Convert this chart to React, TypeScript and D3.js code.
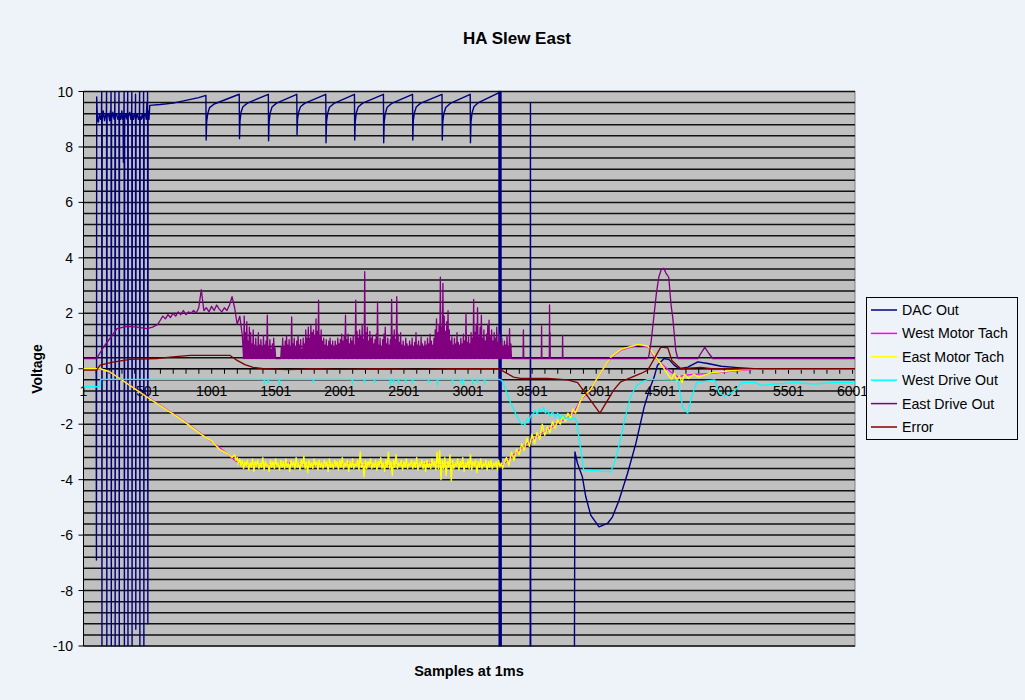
import React from "react";
import * as d3 from "d3";

type P = [number, number];

// ---------- axis / category data ----------
const SAMPLE_MIN = 1;
const SAMPLE_MAX = 6020;
const X_LABELS = [1, 501, 1001, 1501, 2001, 2501, 3001, 3501, 4001, 4501, 5001, 5501, 6001];
const X_TICKS = d3.range(1, 6002, 100);
const Y_TICKS = [-10, -8, -6, -4, -2, 0, 2, 4, 6, 8, 10];
const Y_GRID = d3.range(-10, 10.001, 0.4);

const TITLE = "HA Slew East";
const X_TITLE = "Samples at 1ms";
const Y_TITLE = "Voltage";

const SERIES_NAMES = ["DAC Out", "West Motor Tach", "East Motor Tach", "West Drive Out", "East Drive Out", "Error"];
const SERIES_COLORS = ["#000080", "#FF00FF", "#FFFF00", "#00FFFF", "#800080", "#800000"];
const SERIES_WIDTHS = [1.4, 1.3, 1.4, 1.3, 1.3, 1.3];

// ---------- DAC Out ----------
const DAC_OUT: P[] = [
  [1, 0], [100, 0], [102, -6.9], [104, 9.8], [110, 9.0], [118, 8.9], [125, 9.2], [135, 9.0],
  [141, 9.1], [143, 10], [145, -10], [147, 9.0], [155, 9.3], [165, 8.95], [175, 9.2],
  [179, 9.1], [181, 10], [183, -10], [185, 9.1], [195, 9.2], [205, 8.95], [212, 9.3],
  [214, 9.1], [216, 10], [218, -10], [220, 9.0], [230, 9.25], [240, 9.0],
  [244, 9.1], [246, 10], [248, -10], [250, 9.1], [258, 9.2], [270, 9.0],
  [276, 9.1], [278, 10], [280, -10], [282, 9.2], [292, 9.0], [300, 9.3], [306, 9.0],
  [310, 9.1], [312, 7.45], [314, 9.1], [316, 9.2], [318, 10], [320, -10], [322, 9.0],
  [332, 9.2], [340, 9.0], [344, 9.1], [346, 10], [348, -10], [350, 9.1], [362, 9.25], [370, 9.0],
  [376, 9.1], [378, 10], [380, -10], [382, 9.2], [392, 9.0], [400, 9.2],
  [405, 9.1], [407, 9.9], [409, -9.4], [411, 9.0], [420, 9.2], [430, 9.0],
  [437, 9.1], [439, 10], [441, -10], [443, 9.1], [452, 9.0], [460, 9.2],
  [468, 9.0], [470, 10], [472, -10], [474, 9.1], [485, 9.2], [490, 9.0], [496, 9.6],
  [499, 9.0], [501, 10], [503, -9.2], [505, 9.3], [512, 9.0], [518, 9.5],
  [600, 9.53], [700, 9.58], [800, 9.68], [900, 9.78], [956, 9.86],
  [958, 8.25], [962, 8.9], [970, 9.2], [985, 9.42], [1020, 9.55], [1216, 9.9],
  [1218, 8.3], [1222, 8.95], [1230, 9.25], [1245, 9.45], [1280, 9.58], [1443, 9.9],
  [1445, 8.22], [1449, 8.9], [1457, 9.22], [1472, 9.44], [1507, 9.58], [1665, 9.9],
  [1667, 8.45], [1671, 9.0], [1679, 9.25], [1694, 9.45], [1729, 9.58], [1891, 9.9],
  [1893, 8.15], [1897, 8.9], [1905, 9.2], [1920, 9.43], [1955, 9.57], [2115, 9.9],
  [2117, 8.25], [2121, 8.9], [2129, 9.22], [2144, 9.44], [2179, 9.58], [2341, 9.9],
  [2343, 8.15], [2347, 8.9], [2355, 9.2], [2370, 9.43], [2405, 9.57], [2568, 9.9],
  [2570, 8.25], [2574, 8.95], [2582, 9.22], [2597, 9.44], [2632, 9.58], [2798, 9.9],
  [2800, 8.25], [2804, 8.9], [2812, 9.2], [2827, 9.42], [2862, 9.57], [3018, 9.9],
  [3020, 8.15], [3024, 8.9], [3032, 9.22], [3047, 9.45], [3082, 9.6], [3240, 9.95],
  [3242, 10], [3244, -10], [3246, 10], [3248, -10], [3250, 10], [3252, -10], [3254, 10],
  [3256, -10], [3258, 10], [3260, -10.5], [3486, -10.5], [3488, 9.6], [3490, -10.5], [3831, -10.5],
  [3835, -3.0], [3854, -3.4], [3893, -3.9], [3919, -4.6], [3958, -5.28], [4023, -5.7],
  [4089, -5.58], [4128, -5.34], [4179, -4.74], [4245, -3.78], [4310, -2.7], [4374, -1.4],
  [4420, -0.7], [4453, -0.3], [4479, 0.13], [4531, 0.37], [4570, 0.33], [4609, 0.13],
  [4650, 0], [4716, 0.06], [4794, 0.25], [4872, 0.19], [4976, 0.09], [5104, 0.04],
  [5231, 0], [6020, 0],
];

// ---------- West Motor Tach ----------
const WEST_MOTOR_TACH: P[] = [
  [1, 0], [130, 0], [200, -0.1], [260, -0.27], [495, -1.0], [755, -1.78], [935, -2.4],
  [1120, -3.05], [1180, -3.3], [1220, -3.42], [1300, -3.5], [1400, -3.45], [1500, -3.48],
  [1600, -3.4], [1700, -3.45], [1800, -3.5], [1900, -3.42], [2000, -3.46], [2100, -3.4],
  [2200, -3.48], [2300, -3.44], [2400, -3.5], [2500, -3.42], [2600, -3.46], [2700, -3.4],
  [2800, -3.47], [2900, -3.43], [3000, -3.48], [3100, -3.42], [3200, -3.46], [3277, -3.45],
  [3332, -3.2], [3488, -2.6], [3621, -2.2], [3777, -1.75], [3824, -1.6], [3880, -1.13],
  [3958, -0.77], [4013, -0.3], [4115, 0.4], [4193, 0.67], [4326, 0.85], [4404, 0.8],
  [4451, 0.45], [4505, 0.2], [4583, -0.12], [4638, -0.3], [4685, -0.24], [4763, -0.2],
  [4896, -0.17], [5029, -0.1], [5154, -0.05], [5286, 0], [6020, 0],
];

// ---------- East Motor Tach ----------
const EAST_TACH_HEAD: P[] = [
  [1, 0], [130, 0], [200, -0.1], [260, -0.28], [495, -1.02], [755, -1.8], [935, -2.42],
  [1000, -2.6], [1060, -2.9], [1120, -3.05], [1160, -3.2],
];
const EAST_TACH_FLAT_START = 1180;
const EAST_TACH_FLAT_STEP = 10;
const EAST_TACH_FLAT_NOISE = [
  -3.1, -3.3, -3.2, -3.45, -3.25, -3.5, -3.3, -3.6, -3.35, -3.5,
  -3.3, -3.65, -3.4, -3.55, -3.25, -3.7, -3.35, -3.5, -3.3, -3.6,
  -3.4, -3.55, -3.2, -3.65, -3.35, -3.5, -3.45, -3.7, -3.3, -3.55,
  -3.35, -3.6, -3.25, -3.5, -3.4, -3.65, -3.3, -3.55, -3.35, -3.6,
  -3.25, -3.55, -3.4, -3.7, -3.3, -3.5, -3.35, -3.6, -3.2, -3.55,
  -3.4, -3.65, -3.3, -3.5, -3.15, -3.6, -3.35, -3.75, -3.3, -3.55,
  -3.4, -3.6, -3.25, -3.5, -3.35, -3.65, -3.3, -3.55, -3.4, -3.6,
  -3.3, -3.5, -3.35, -3.7, -3.25, -3.55, -3.4, -3.6, -3.3, -3.5,
  -3.35, -3.65, -3.3, -3.55, -3.2, -3.6, -3.4, -3.5, -3.3, -3.7,
  -3.35, -3.55, -3.25, -3.6, -3.4, -3.5, -3.3, -3.65, -3.0, -3.55,
  -3.4, -3.9, -3.3, -3.6, -3.35, -3.5, -3.25, -3.6, -3.4, -3.55,
  -3.3, -3.65, -3.35, -3.5, -3.2, -3.6, -3.4, -3.7, -3.3, -3.55,
  -3.0, -3.6, -3.35, -3.85, -3.3, -3.55, -3.1, -3.6, -3.4, -3.5,
  -3.3, -3.65, -3.35, -3.55, -3.25, -3.6, -3.4, -3.5, -3.3, -3.6,
  -3.35, -3.55, -3.2, -3.65, -3.4, -3.5, -3.3, -3.6, -3.35, -3.7,
  -3.3, -3.55, -3.4, -3.6, -3.25, -3.5, -3.35, -3.65, -3.0, -3.6,
  -2.95, -4.0, -3.3, -3.6, -3.2, -3.85, -3.35, -3.55, -3.1, -4.05,
  -3.3, -3.6, -3.4, -3.5, -3.25, -3.65, -3.35, -3.55, -3.2, -3.7,
  -3.4, -3.55, -3.3, -3.6, -3.1, -3.65, -3.35, -3.5, -3.3, -3.75,
  -3.35, -3.55, -3.25, -3.6, -3.4, -3.5, -3.3, -3.65, -3.35, -3.55,
  -3.3, -3.6, -3.4, -3.5, -3.35, -3.65, -3.3, -3.55, -3.4, -3.6,
  -3.45,
];
const EAST_TACH_RISE_START = 3300;
const EAST_TACH_RISE_STEP = 20;
const EAST_TACH_RISE_NOISE = [
  -3.2, -3.5, -3.0, -3.3, -2.9, -3.1, -2.7, -2.95, -2.5, -2.8,
  -2.35, -2.7, -2.3, -2.55, -2.0, -2.4, -2.1, -2.3, -1.9, -2.15,
  -1.85, -2.0, -1.7, -1.9, -1.6, -1.8, -1.45, -1.6, -1.35, -1.15,
];
const EAST_TACH_TAIL: P[] = [
  [3900, -1.0], [3958, -0.75], [4013, -0.3], [4115, 0.42], [4193, 0.7], [4326, 0.88],
  [4404, 0.82], [4451, 0.5], [4505, 0.18], [4560, -0.2], [4590, -0.4], [4610, -0.15],
  [4630, -0.45], [4650, -0.25], [4670, -0.5], [4690, -0.2], [4720, -0.35], [4763, -0.2],
  [4800, -0.3], [4896, -0.15], [5029, -0.08], [5154, -0.03], [5286, 0], [6020, 0],
];

// ---------- West Drive Out ----------
const WEST_DRIVE_BASE = -0.38;
const WEST_DRIVE_OUT: P[] = [
  [1, -0.65], [130, -0.65], [135, -0.38], [3242, -0.38], [3265, -0.42], [3290, -0.7],
  [3310, -0.95], [3330, -1.2], [3356, -1.45], [3380, -1.7], [3400, -1.85], [3420, -2.0],
  [3434, -1.95], [3445, -2.05], [3460, -1.8], [3475, -1.9], [3490, -1.7], [3512, -1.6],
  [3525, -1.5], [3540, -1.65], [3555, -1.45], [3570, -1.55], [3590, -1.4], [3605, -1.6],
  [3620, -1.5], [3640, -1.7], [3660, -1.55], [3680, -1.75], [3700, -1.6], [3720, -1.8],
  [3740, -1.65], [3760, -1.8], [3780, -1.75], [3800, -1.85], [3825, -1.75], [3845, -1.85],
  [3880, -2.9], [3903, -3.65], [4114, -3.72], [4150, -3.3], [4192, -2.5], [4230, -1.7],
  [4270, -1.0], [4310, -0.65], [4348, -0.5], [4403, -0.38], [4637, -0.4], [4676, -1.4],
  [4715, -1.6], [4746, -1.0], [4785, -0.5], [4926, -0.4], [4957, -0.85], [5004, -1.0],
  [5082, -0.8], [5137, -0.5], [5238, -0.5], [5293, -0.6], [5394, -0.55], [5551, -0.5],
  [5700, -0.55], [5850, -0.5], [6020, -0.5],
];
const WEST_DRIVE_DIPS: P[] = [
  [1412, -0.55], [1443, -0.5], [1529, -0.6], [1795, -0.5], [2099, -0.55], [2193, -0.5],
  [2271, -0.5], [2396, -0.6], [2420, -0.5], [2459, -0.55], [2514, -0.5], [2568, -0.55],
  [2693, -0.5], [2763, -0.6], [2880, -0.55], [2943, -0.5], [2966, -0.6], [3036, -0.55],
  [3075, -0.5], [3130, -0.55],
];

// ---------- East Drive Out ----------
const EAST_DRIVE_BASE = 0.37;
const EAST_DRIVE_HEAD: P[] = [
  [1, 0.37], [104, 0.37], [114, 0.45], [160, 0.8], [208, 1.1], [263, 1.45], [341, 1.53],
  [420, 1.5], [497, 1.45], [540, 1.5], [580, 1.6],
];
const EAST_DRIVE_RIPPLE_START = 600;
const EAST_DRIVE_RIPPLE_STEP = 20;
const EAST_DRIVE_RIPPLE = [
  1.75, 1.9, 1.8, 1.95, 1.85, 2.0, 1.9, 2.05, 1.95, 2.1, 1.95, 2.05, 2.0, 2.1, 2.0, 2.2,
  2.85, 2.1, 2.2, 2.05, 2.25, 2.1, 2.3, 2.15, 2.05, 2.2, 2.1, 2.3, 2.6, 2.2, 1.6, 1.9, 1.2,
];
const EAST_DRIVE_PEAK_START = 1250;
const EAST_DRIVE_PEAK_STEP = 10;
const EAST_DRIVE_PEAKS = [
  1.9, 1.3, 1.7, 1.0, 1.5, 1.3, 0.9, 1.4, 0.85, 1.1,
  0.8, 1.3, 0.85, 1.05, 0.75, 1.2, 0.85, 1.0, 1.93, 0.8,
  1.05, 0.7, 0.9, 1.1, 0.75, 0.37, 0.37, 0.37, 0.37, 0.8,
  1.1, 0.8, 1.0, 1.2, 0.85, 1.05, 0.8, 1.87, 0.9, 1.1,
  0.8, 1.0, 1.2, 0.85, 1.05, 0.7, 1.1, 0.9, 1.4, 1.1,
  1.5, 1.1, 1.6, 1.3, 1.4, 1.2, 1.8, 1.35, 2.47, 1.2,
  1.4, 1.0, 1.1, 0.85, 1.05, 0.8, 1.0, 1.1, 0.85, 1.0,
  0.8, 1.0, 0.85, 1.1, 0.9, 1.05, 1.25, 1.0, 1.2, 1.93,
  1.05, 1.25, 0.9, 1.1, 1.0, 1.2, 0.85, 2.47, 1.35, 1.1,
  1.4, 1.2, 1.6, 1.05, 3.5, 1.3, 1.5, 1.0, 1.35, 1.1,
  1.2, 0.9, 1.05, 1.25, 2.4, 0.85, 1.1, 0.8, 1.05, 1.25,
  1.5, 0.9, 1.1, 0.85, 1.05, 2.5, 1.2, 1.4, 1.05, 2.6,
  1.25, 0.95, 1.3, 0.85, 1.0, 0.8, 1.1, 0.9, 0.8, 1.0,
  0.85, 1.1, 0.8, 0.95, 1.3, 0.85, 1.0, 0.8, 1.15, 0.9,
  0.8, 1.0, 0.85, 1.1, 0.9, 1.25, 1.0, 0.85, 1.1, 1.4,
  1.8, 1.3, 1.6, 3.3, 1.5, 3.08, 1.9, 1.35, 1.7, 2.1,
  1.4, 1.0, 1.15, 0.85, 1.1, 0.9, 1.3, 0.95, 0.85, 1.1,
  0.9, 1.25, 1.0, 2.0, 0.95, 1.15, 0.9, 1.3, 1.1, 2.5,
  1.3, 1.6, 2.2, 1.15, 1.5, 1.93, 1.1, 1.4, 1.0, 1.25,
  1.6, 1.75, 1.15, 1.4, 1.0, 1.3, 1.1, 1.5, 0.95, 1.25,
  0.9, 1.1, 0.8, 1.0, 0.85, 1.2, 0.75, 1.45, 0.9,
];
const EAST_DRIVE_TAIL: P[] = [
  [3340, 0.37], [3430, 0.37], [3433, 1.4], [3436, 0.37], [3573, 0.37], [3575, 1.55],
  [3577, 0.37], [3635, 0.37], [3637, 2.3], [3639, 0.37], [3641, 1.3], [3643, 0.37],
  [3737, 0.37], [3739, 1.2], [3741, 0.37], [4400, 0.37], [4411, 0.45], [4430, 1.0],
  [4450, 1.85], [4470, 2.7], [4489, 3.3], [4510, 3.6], [4528, 3.62], [4545, 3.45],
  [4567, 3.3], [4585, 2.3], [4598, 1.85], [4622, 0.65], [4638, 0.37], [4794, 0.37],
  [4817, 0.55], [4848, 0.77], [4880, 0.55], [4911, 0.37], [6020, 0.37],
];

// ---------- Error ----------
const ERROR: P[] = [
  [1, -0.05], [104, -0.05], [130, 0.13], [230, 0.24], [365, 0.34], [575, 0.37], [677, 0.42],
  [833, 0.48], [1145, 0.48], [1200, 0.3], [1260, 0.15], [1325, 0.05], [1403, 0], [1600, -0.03],
  [1800, 0], [2000, -0.02], [2300, 0], [2600, -0.02], [2900, 0], [3240, 0], [3260, -0.05],
  [3356, -0.3], [3411, -0.35], [3621, -0.35], [3777, -0.4], [3856, -0.5], [4030, -1.6],
  [4137, -0.77], [4192, -0.47], [4350, -0.17], [4403, -0.05], [4505, 0.78], [4560, 0.75],
  [4591, 0.3], [4661, 0], [4817, 0.05], [4900, 0], [6020, 0],
];

// ---------- assembled series ----------
function buildEastTach(): P[] {
  const flat = EAST_TACH_FLAT_NOISE.map((v, i) => [EAST_TACH_FLAT_START + i * EAST_TACH_FLAT_STEP, v] as P);
  const rise = EAST_TACH_RISE_NOISE.map((v, i) => [EAST_TACH_RISE_START + i * EAST_TACH_RISE_STEP, v] as P);
  return [...EAST_TACH_HEAD, ...flat, ...rise, ...EAST_TACH_TAIL];
}
function buildWestDrive(): P[] {
  const pts: P[] = [...WEST_DRIVE_OUT];
  WEST_DRIVE_DIPS.forEach(([s, v]) => {
    pts.push([s - 3, WEST_DRIVE_BASE], [s, v], [s + 3, WEST_DRIVE_BASE]);
  });
  return pts.sort((a, b) => a[0] - b[0]);
}
function buildEastDrive(): P[] {
  const ripple = EAST_DRIVE_RIPPLE.map((v, i) => [EAST_DRIVE_RIPPLE_START + i * EAST_DRIVE_RIPPLE_STEP, v] as P);
  const spikes: P[] = [];
  EAST_DRIVE_PEAKS.forEach((v, i) => {
    const s = EAST_DRIVE_PEAK_START + i * EAST_DRIVE_PEAK_STEP;
    spikes.push([s, EAST_DRIVE_BASE], [s + 5, v]);
  });
  return [...EAST_DRIVE_HEAD, ...ripple, ...spikes, ...EAST_DRIVE_TAIL];
}

const PL = 83.5, PR = 855, PT = 91.5, PB = 646;
const FONT = "'Liberation Sans', Arial, sans-serif";
const BG = "#EEF3F9";

export default function App() {
  const x = d3.scaleLinear().domain([SAMPLE_MIN, SAMPLE_MAX]).range([PL, PR]);
  const y = d3.scaleLinear().domain([-10, 10]).range([PB, PT]);
  const line = d3.line<P>().x((d) => x(d[0])).y((d) => y(d[1]));

  const series: P[][] = [DAC_OUT, WEST_MOTOR_TACH, buildEastTach(), buildWestDrive(), buildEastDrive(), ERROR];
  const y0 = y(0);

  return (
    <svg width={1025} height={700} style={{ position: "absolute", left: 0, top: 0, background: BG }}
      fontFamily={FONT}>
      <defs>
        <clipPath id="plotclip">
          <rect x={PL} y={PT - 1} width={PR - PL} height={PB - PT + 1.5} />
        </clipPath>
      </defs>
      <rect x={0} y={0} width={1025} height={700} fill={BG} />
      <text x={517} y={44} textAnchor="middle" fontSize={17} fontWeight="bold">{TITLE}</text>

      {/* plot area */}
      <rect x={PL} y={PT} width={PR - PL} height={PB - PT} fill="#C0C0C0" stroke="#808080" strokeWidth={1} />
      {Y_GRID.map((v, i) => (
        <line key={"g" + i} x1={PL} x2={PR} y1={y(v)} y2={y(v)} stroke="#111" strokeWidth={1.5} />
      ))}

      {/* y axis */}
      <line x1={PL} x2={PL} y1={PT} y2={PB} stroke="#000" strokeWidth={1} />
      {Y_TICKS.map((v) => (
        <g key={"yt" + v}>
          <line x1={PL - 5} x2={PL} y1={y(v)} y2={y(v)} stroke="#000" />
          <text x={73} y={y(v) + 5} textAnchor="end" fontSize={14}>{v}</text>
        </g>
      ))}

      {/* x axis at zero */}
      <line x1={PL} x2={PR} y1={y0} y2={y0} stroke="#000" strokeWidth={1} />
      {X_TICKS.map((s) => (
        <line key={"xt" + s} x1={x(s)} x2={x(s)} y1={y0} y2={y0 + 5} stroke="#000" />
      ))}
      {X_LABELS.map((s) => (
        <text key={"xl" + s} x={x(s)} y={y0 + 27} textAnchor="middle" fontSize={14}>{s}</text>
      ))}

      {/* series */}
      <g clipPath="url(#plotclip)">
        {series.map((d, i) => (
          <path key={"s" + i} d={line(d) || ""} fill="none" stroke={SERIES_COLORS[i]}
            strokeWidth={SERIES_WIDTHS[i]} strokeLinejoin="round" />
        ))}
      </g>

      {/* axis titles */}
      <text transform="translate(42,369) rotate(-90)" textAnchor="middle" fontSize={14} fontWeight="bold">{Y_TITLE}</text>
      <text x={469} y={676} textAnchor="middle" fontSize={14.5} fontWeight="bold">{X_TITLE}</text>

      {/* legend */}
      <rect x={866.5} y={297.5} width={151} height={142} fill={BG} stroke="#000" strokeWidth={1} />
      {SERIES_NAMES.map((name, i) => {
        const ly = 310 + i * 23.4;
        return (
          <g key={"lg" + i}>
            <line x1={871} x2={897} y1={ly} y2={ly} stroke={SERIES_COLORS[i]} strokeWidth={1.5} />
            <text x={902} y={ly + 5} fontSize={14.2}>{name}</text>
          </g>
        );
      })}
    </svg>
  );
}
